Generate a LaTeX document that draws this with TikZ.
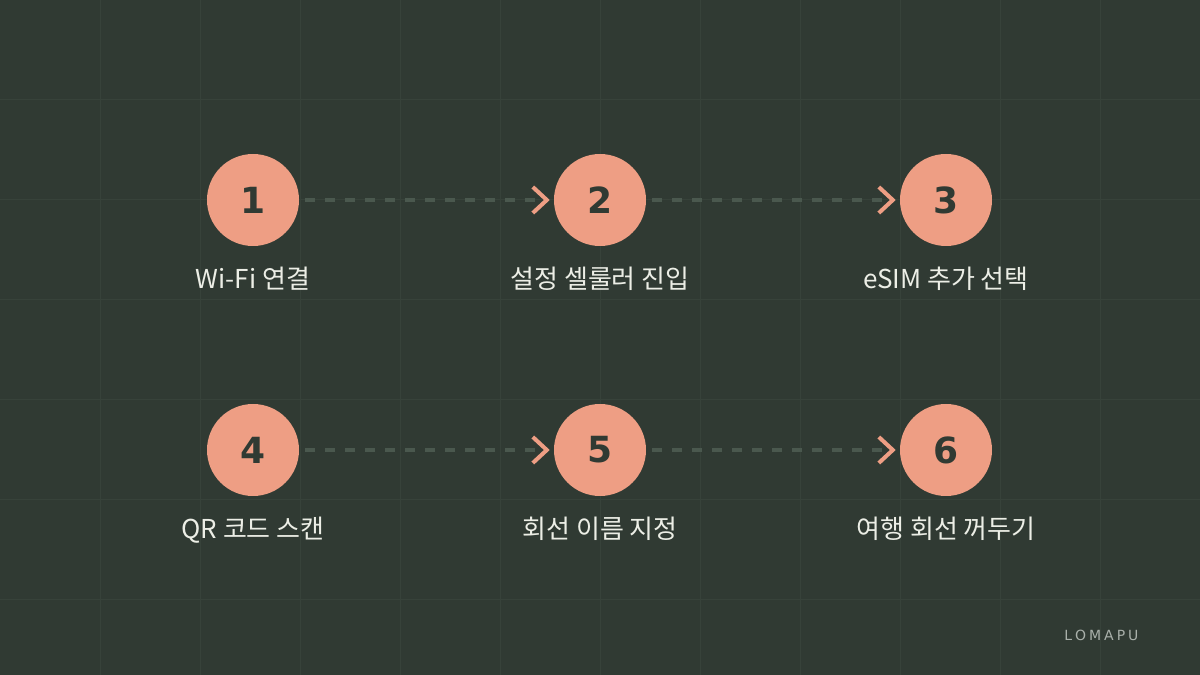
\documentclass[tikz,border=0pt]{standalone}
\usepackage{fontspec}
\setmainfont{DejaVu Sans}
\newfontfamily\krfont{Noto Sans CJK KR}
\usetikzlibrary{positioning}
\definecolor{bgdark}{HTML}{303A33}
\definecolor{gridline}{HTML}{37423A}
\definecolor{salmon}{HTML}{EE9E84}
\definecolor{dashgray}{HTML}{4A584E}
\definecolor{labeltext}{HTML}{ECEEE6}
\definecolor{marktext}{HTML}{A9B0AA}
\tikzset{
  stepdot/.style={circle, fill=salmon, minimum size=92pt, inner sep=0pt,
    text=bgdark, font=\fontsize{36}{36}\selectfont\bfseries},
  steplabel/.style={text=labeltext, font=\krfont\fontsize{26}{26}\selectfont},
  link/.style={dashgray, line width=4pt, dash pattern=on 10pt off 10pt},
  chevron/.style={salmon, line width=4pt}
}
\begin{document}
\begin{tikzpicture}[x=1pt,y=1pt]
\fill[bgdark] (0,0) rectangle (1200,675);
\useasboundingbox (0,0) rectangle (1200,675);
\foreach \gx in {100,200,...,1100}
  \draw[gridline, line width=1pt] (\gx,0) -- (\gx,675);
\foreach \gy in {75,175,...,675}
  \draw[gridline, line width=1pt] (0,\gy) -- (1200,\gy);
% steps
\node[stepdot] (s1) at (253,475) {1};
\node[stepdot] (s2) at (600,475) {2};
\node[stepdot] (s3) at (946,475) {3};
\node[stepdot] (s4) at (253,225) {4};
\node[stepdot] (s5) at (600,225) {5};
\node[stepdot] (s6) at (946,225) {6};
\node[steplabel, below=17pt of s1] (l1) {Wi-Fi 연결};
\node[steplabel, below=17pt of s2] (l2) {설정 셀룰러 진입};
\node[steplabel, below=17pt of s3] (l3) {eSIM 추가 선택};
\node[steplabel, below=17pt of s4] (l4) {QR 코드 스캔};
\node[steplabel, below=17pt of s5] (l5) {회선 이름 지정};
\node[steplabel, below=17pt of s6] (l6) {여행 회선 꺼두기};
% links
\foreach \a/\b in {s1/s2,s2/s3,s4/s5,s5/s6}{
  \draw[link] ([xshift=6pt]\a.east) -- ([xshift=-10pt]\b.west);
  \draw[chevron] ([xshift=-21pt,yshift=13pt]\b.west) -- ([xshift=-7pt]\b.west)
    -- ([xshift=-21pt,yshift=-13pt]\b.west);
}
\node[text=marktext, font=\fontsize{14}{14}\selectfont, anchor=east] (mark) at (1142,40)
  {L\hspace{3pt}O\hspace{3pt}M\hspace{3pt}A\hspace{3pt}P\hspace{3pt}U};
\end{tikzpicture}
\end{document}
